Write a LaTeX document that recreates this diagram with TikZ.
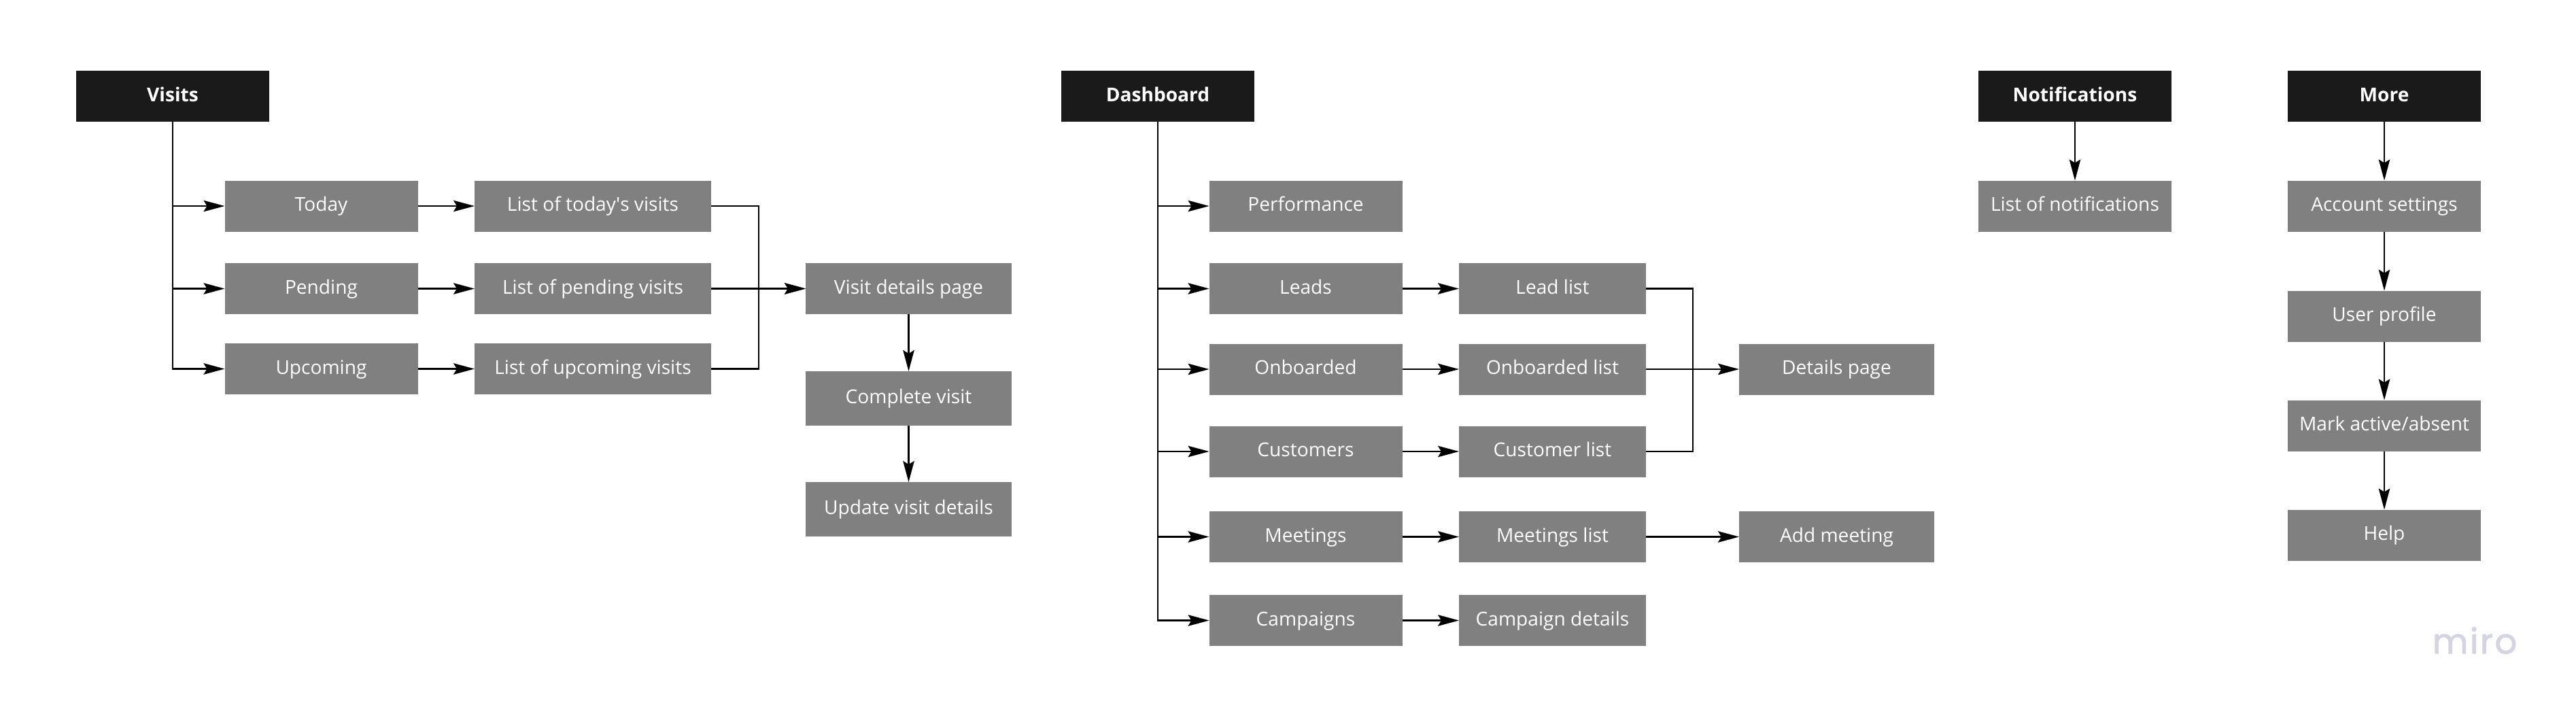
\documentclass[tikz,border=0pt]{standalone}
\usepackage{fontspec}
\setmainfont{Open Sans}
\newfontfamily\wmfont[LetterSpace=5, FakeBold=2]{Poppins}
\usetikzlibrary{arrows.meta}
\definecolor{headblack}{HTML}{1A1A1A}
\definecolor{itemgray}{HTML}{808080}
\definecolor{wmgray}{HTML}{D4D4E2}
\begin{document}
\begin{tikzpicture}[
    hd/.style={rectangle, fill=headblack, text=white, outer sep=0pt,
               minimum width=2.84cm, minimum height=0.75cm,
               text height=2.2mm, text depth=0.66mm,
               align=center, font=\fontsize{8}{10}\selectfont\bfseries},
    it/.style={rectangle, fill=itemgray, text=white, outer sep=0pt,
               minimum width=2.84cm, minimum height=0.75cm,
               text height=2.2mm, text depth=0.66mm,
               align=center, font=\fontsize{8}{10}\selectfont},
    dep/.style={->, line width=0.6pt, >={Stealth[length=3.1mm, width=1.65mm, inset=0.5mm]}, black},
    lin/.style={line width=0.6pt, black}
]
\useasboundingbox (0, 0) rectangle (37.89, -10.55);

% Visits
\node[hd] (visits) at (2.54, -1.415) {Visits};
\node[it] (today) at (4.725, -3.03) {Today};
\node[it] (pending) at (4.725, -4.245) {Pending};
\node[it] (upcoming) at (4.725, -5.425) {Upcoming};
\node[it, minimum width=3.48cm] (ltoday) at (8.72, -3.03) {List of today\textquotesingle s visits};
\node[it, minimum width=3.48cm] (lpending) at (8.72, -4.245) {List of pending visits};
\node[it, minimum width=3.48cm] (lupcoming) at (8.72, -5.425) {List of upcoming visits};
\node[it, minimum width=3.03cm] (vdetails) at (13.365, -4.245) {Visit details page};
\node[it, minimum width=3.03cm, minimum height=0.8cm] (vcomplete) at (13.365, -5.86) {Complete visit};
\node[it, minimum width=3.03cm, minimum height=0.8cm] (vupdate) at (13.365, -7.49) {Update visit details};
\coordinate (vjoin) at (11.16, -4.245);

\draw[dep] (visits) |- (today);
\draw[dep] (visits) |- (pending);
\draw[dep] (visits) |- (upcoming);
\draw[dep] (today) -- (ltoday);
\draw[dep] (pending) -- (lpending);
\draw[dep] (upcoming) -- (lupcoming);
\draw[lin] (ltoday) -| (vjoin);
\draw[lin] (lupcoming) -| (vjoin);
\draw[dep] (lpending) -- (vdetails);
\draw[dep] (vjoin) -- (vdetails);
\draw[dep] (vdetails) -- (vcomplete);
\draw[dep] (vcomplete) -- (vupdate);

% Dashboard
\node[hd] (dash) at (17.03, -1.415) {Dashboard};
\node[it] (perf) at (19.205, -3.03) {Performance};
\node[it] (leads) at (19.205, -4.245) {Leads};
\node[it] (onb) at (19.205, -5.43) {Onboarded};
\node[it] (cust) at (19.205, -6.64) {Customers};
\node[it] (meet) at (19.205, -7.895) {Meetings};
\node[it] (camp) at (19.205, -9.125) {Campaigns};
\node[it, minimum width=2.75cm] (lleads) at (22.835, -4.245) {Lead list};
\node[it, minimum width=2.75cm] (lonb) at (22.835, -5.43) {Onboarded list};
\node[it, minimum width=2.75cm] (lcust) at (22.835, -6.64) {Customer list};
\node[it, minimum width=2.75cm] (lmeet) at (22.835, -7.895) {Meetings list};
\node[it, minimum width=2.75cm] (dcamp) at (22.835, -9.125) {Campaign details};
\node[it, minimum width=2.87cm] (dpage) at (27.015, -5.43) {Details page};
\node[it, minimum width=2.87cm] (addm) at (27.015, -7.895) {Add meeting};
\coordinate (djoin) at (24.9, -5.43);

\draw[dep] (dash) |- (perf);
\draw[dep] (dash) |- (leads);
\draw[dep] (dash) |- (onb);
\draw[dep] (dash) |- (cust);
\draw[dep] (dash) |- (meet);
\draw[dep] (dash) |- (camp);
\draw[dep] (leads) -- (lleads);
\draw[dep] (onb) -- (lonb);
\draw[dep] (cust) -- (lcust);
\draw[dep] (meet) -- (lmeet);
\draw[dep] (camp) -- (dcamp);
\draw[lin] (lleads) -| (djoin);
\draw[lin] (lcust) -| (djoin);
\draw[dep] (lonb) -- (dpage);
\draw[dep] (lmeet) -- (addm);

% Notifications
\node[hd] (notif) at (30.52, -1.415) {Notifications};
\node[it] (lnotif) at (30.52, -3.03) {List of notifications};
\draw[dep] (notif) -- (lnotif);

% More
\node[hd] (more) at (35.07, -1.415) {More};
\node[it] (account) at (35.07, -3.03) {Account settings};
\node[it] (profile) at (35.07, -4.65) {User profile};
\node[it] (mark) at (35.07, -6.26) {Mark active/absent};
\node[it] (help) at (35.07, -7.87) {Help};
\draw[dep] (more) -- (account);
\draw[dep] (account) -- (profile);
\draw[dep] (profile) -- (mark);
\draw[dep] (mark) -- (help);

\node[text=wmgray, font=\fontsize{14.5}{18}\wmfont, inner sep=0pt] (wm) at (36.4, -9.42) {miro};
\end{tikzpicture}
\end{document}
